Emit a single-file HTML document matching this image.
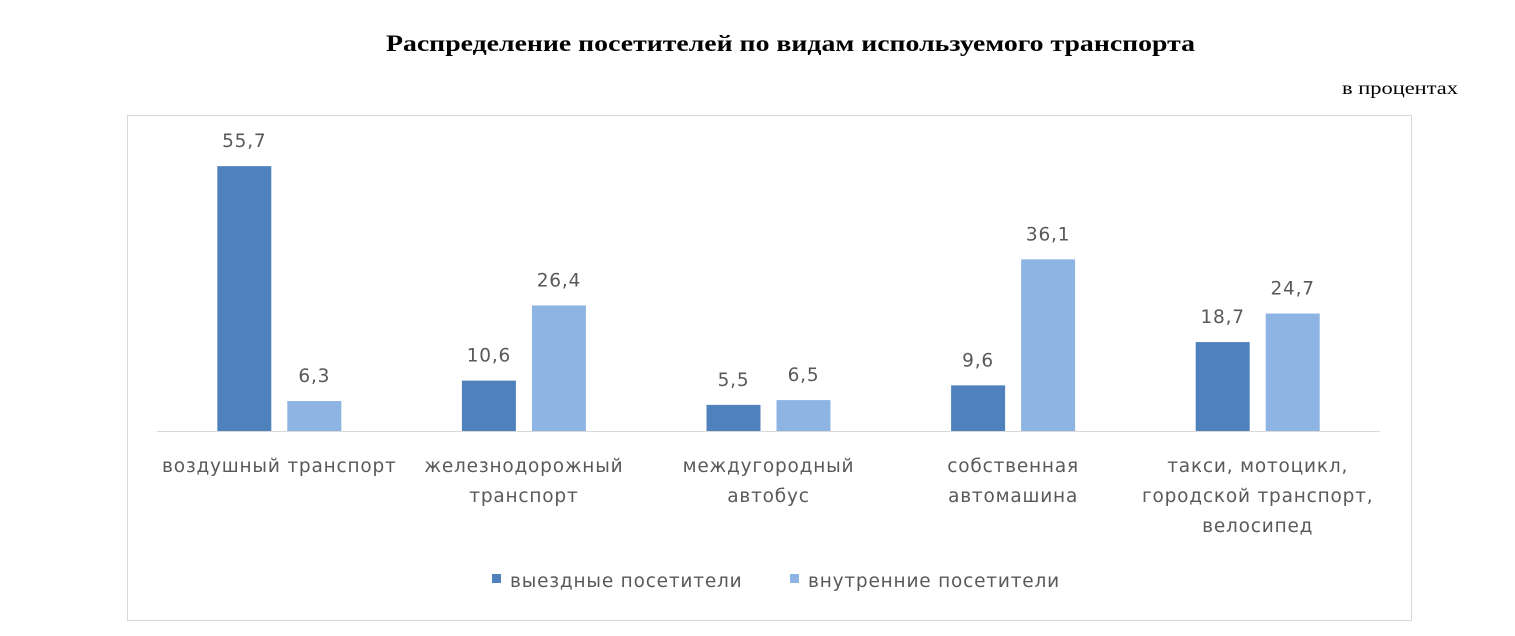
<!DOCTYPE html>
<html><head><meta charset="utf-8"><style>
body{margin:0;background:#fff;width:1515px;height:636px;overflow:hidden}
svg{display:block}
.t{font-family:"DejaVu Sans","Liberation Sans",sans-serif;font-size:18.5px;letter-spacing:0.8px;fill:#595959}
</style></head><body>
<svg width="1515" height="636">
<text x="386" y="51" textLength="809" lengthAdjust="spacingAndGlyphs" font-family="Liberation Serif,serif" font-weight="bold" font-size="23" fill="#000">Распределение посетителей по видам используемого транспорта</text>
<text x="1342" y="94" textLength="116" lengthAdjust="spacingAndGlyphs" font-family="Liberation Serif,serif" font-size="18" fill="#000">в процентах</text>
<rect x="127.5" y="115.5" width="1284" height="505" fill="none" stroke="#d9d9d9"/>
<g id="plot"></g>
<line x1="157" x2="1380" y1="431.5" y2="431.5" stroke="#d9d9d9"/>
<rect x="492" y="574" width="9" height="9" fill="#4f81bd"/>
<text class="t" x="510" y="587">выездные посетители</text>
<rect x="790" y="574" width="9" height="9" fill="#8eb4e3"/>
<text class="t" x="808" y="587">внутренние посетители</text>
</svg>
<script>
const categories=[["воздушный транспорт"],["железнодорожный","транспорт"],["междугородный","автобус"],["собственная","автомашина"],["такси, мотоцикл,","городской транспорт,","велосипед"]];
const outbound=[55.7,10.6,5.5,9.6,18.7];
const domestic=[6.3,26.4,6.5,36.1,24.7];
const base=431,scale=4.755,x0=157,gw=244.6,bw=54;
const ns="http://www.w3.org/2000/svg";
const g=document.getElementById('plot');
function y(v){return base-v*scale;}
function fmt(v){return v.toFixed(1).replace('.',',');}
function add(tag,attrs,txt){const e=document.createElementNS(ns,tag);for(const k in attrs)e.setAttribute(k,attrs[k]);if(txt)e.textContent=txt;g.appendChild(e);return e;}
categories.forEach((c,i)=>{
 const cx=x0+gw*(i+0.5);
 [[outbound[i],'#4f81bd',cx-62,'outbound'],[domestic[i],'#8eb4e3',cx+8,'domestic']].forEach(([v,col,x,s])=>{
  const r=add('rect',{x:x,y:y(v),width:bw,height:v*scale,fill:col});
  
  
  const t=add('text',{x:x+bw/2,y:y(v)-19,'text-anchor':'middle',class:'t'},fmt(v));
  
  
 });
 c.forEach((line,j)=>{
  const t=add('text',{x:cx,y:472+j*30,'text-anchor':'middle',class:'t'},line);
  
  
 });
});
</script>
</body></html>
